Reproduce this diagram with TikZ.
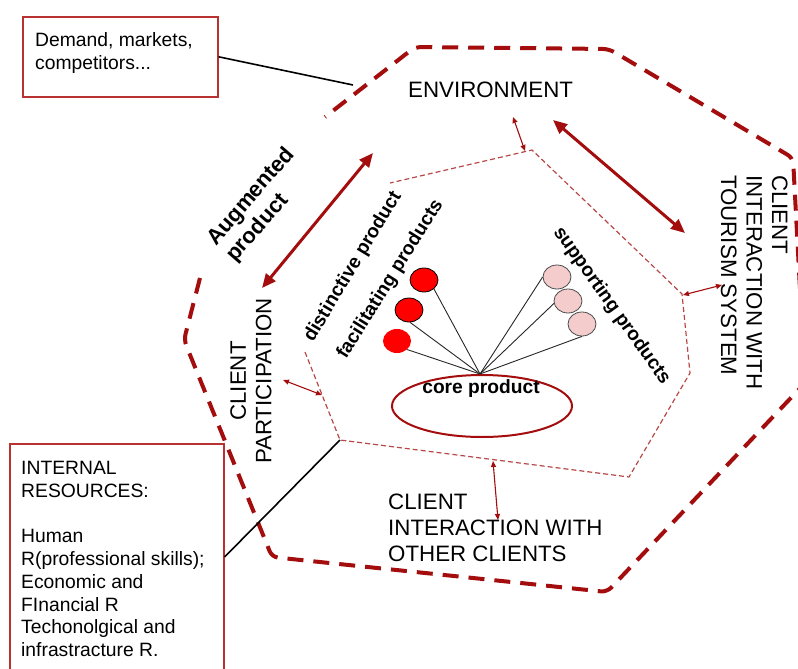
\documentclass[tikz,border=0pt]{standalone}
\usepackage{fontspec}
\setmainfont{Liberation Sans}
\usetikzlibrary{arrows.meta,shapes.geometric}
\definecolor{dred}{HTML}{A30D0D}
\definecolor{lred}{HTML}{B84848}
\definecolor{boxred}{HTML}{B83232}
\definecolor{pinkfill}{HTML}{F4CCCC}
\begin{document}
\begin{tikzpicture}[x=1pt,y=-1pt,
  outer/.style={draw=dred, line width=4pt, dash pattern=on 16pt off 10pt, rounded corners=6pt},
  inner/.style={draw=lred, line width=1.2pt, dash pattern=on 5pt off 3pt},
  bigarrow/.style={draw=dred, line width=3pt, {Triangle[length=14pt,width=12pt]}-{Triangle[length=14pt,width=12pt]}},
  smallarrow/.style={draw=dred, line width=1.1pt, {Triangle[length=6pt,width=5pt]}-{Triangle[length=6pt,width=5pt]}},
  infobox/.style={draw=boxred, line width=1.6pt, inner sep=0pt, anchor=north west},
  boxtext/.style={font=\fontsize{19.3}{22.8}\selectfont, align=left, inner sep=0pt, anchor=base west},
  biglabel/.style={font=\fontsize{22.3}{25.6}\selectfont, inner sep=0pt},
  boldlabel/.style={font=\fontsize{19.2}{22}\selectfont\bfseries, inner sep=0pt},
  augstyle/.style={font=\fontsize{22}{25.3}\selectfont\bfseries, inner sep=0pt},
  leader/.style={draw=black, line width=1.6pt},
  fan/.style={draw=black!85, line width=0.9pt},
  ball/.style={ellipse, inner sep=0pt, minimum width=28pt, minimum height=24pt},
  redball/.style={ball, fill=red, draw=black, line width=0.8pt},
  pinkball/.style={ball, fill=pinkfill, draw=black!70, line width=0.8pt}
]
\useasboundingbox (0,0) rectangle (798,669);
\clip (0,0) rectangle (798,669);

% outer (augmented product) boundary
\coordinate (o1) at (200,278);
\coordinate (o2) at (184,340);
\coordinate (o3) at (272,557);
\coordinate (o4) at (607,592);
\coordinate (o5) at (805,383);
\coordinate (o6) at (793,158);
\coordinate (o7) at (609,49);
\coordinate (o8) at (415,47);
\coordinate (o9) at (325,117);
\draw[outer] (o1) -- (o2) -- (o3) -- (o4) -- (o5) -- (o6) -- (o7) -- (o8) -- (o9);

% inner boundary
\coordinate (i1) at (305,352);
\coordinate (i2) at (340,440);
\coordinate (i3) at (629,477);
\coordinate (i4) at (690,373);
\coordinate (i5) at (682,294);
\coordinate (i6) at (532,150);
\coordinate (i7) at (390,183);
\draw[inner] (i1) -- (i2) -- (i3) -- (i4) -- (i5) -- (i6) -- (i7);

% information boxes (multi-line text is anchored at its last baseline)
\node[infobox, minimum width=195pt, minimum height=80pt] (demand) at (22,16) {};
\node[boxtext] (demandtext) at (35,69.5) {Demand, markets,\\competitors...};
\node[infobox, minimum width=214pt, minimum height=260pt] (internal) at (9,443) {};
\node[boxtext] (internaltext) at (21,656.7) {INTERNAL\\RESOURCES:\\[22.8pt]Human\\R(professional skills);\\Economic and\\FInancial R\\Techonolgical and\\infrastracture R.};

\coordinate (envpt) at (353,85);
\draw[leader] (demand.east) -- (envpt);
\draw[leader] ([yshift=-114pt]internal.north east) -- (i2);

% labels
\node[biglabel, anchor=base west] (env) at (408,97) {ENVIRONMENT};
\node[biglabel, align=left, anchor=base west] (others) at (388,561) {CLIENT\\INTERACTION WITH\\OTHER CLIENTS};
\node[biglabel, align=center, rotate=90] (particip) at (251,381) {CLIENT\\PARTICIPATION};
\node[biglabel, align=left, rotate=-90, anchor=north west] (tourism) at (788,175) {CLIENT\\INTERACTION WITH\\TOURISM SYSTEM};
\node[augstyle, align=left, rotate=49, anchor=base west] (augmented) at (235,263) {Augmented\\product};
\node[boldlabel, rotate=59, anchor=base west] (distinct) at (313,343) {distinctive product};
\node[boldlabel, rotate=58, anchor=base west] (facil) at (346,360) {facilitating products};
\node[boldlabel, rotate=-54.5, anchor=base west] (support) at (553,232) {supporting products};

% large two-way arrows
\coordinate (a1) at (553,120);
\coordinate (a2) at (685,233);
\coordinate (b1) at (373,153);
\coordinate (b2) at (262,288);
\draw[bigarrow] (a1) -- (a2);
\draw[bigarrow] (b1) -- (b2);

% small two-way arrows between layers
\coordinate (se1) at (513,117);
\coordinate (se2) at (525,151);
\coordinate (sp1) at (283,380);
\coordinate (sp2) at (322,395);
\coordinate (st1) at (683,295);
\coordinate (st2) at (722,285);
\coordinate (so1) at (493,461);
\coordinate (so2) at (498,520);
\draw[smallarrow] (se1) -- (se2);
\draw[smallarrow] (sp1) -- (sp2);
\draw[smallarrow] (st1) -- (st2);
\draw[smallarrow] (so1) -- (so2);

% core product and its satellites
\node[ellipse, draw=dred, line width=2pt, minimum width=180pt, minimum height=62pt] (core) at (482,406) {};
\node[boldlabel, anchor=base] (coretext) at (481,393) {core product};
\coordinate (hub) at (480,374);

\node[redball] (r1) at (424,280) {};
\node[redball] (r2) at (409,310) {};
\node[ball, fill=red] (r3) at (397,341) {};
\node[pinkball] (p1) at (557,277) {};
\node[pinkball] (p2) at (568,301) {};
\node[pinkball] (p3) at (582,324) {};

\draw[fan] (hub) -- (r1.-42);
\draw[fan] (hub) -- (r2.-85);
\draw[fan] (hub) -- (r3.-40);
\draw[fan] (hub) -- (p1.west);
\draw[fan] (hub) -- (p2.190);
\draw[fan] (hub) -- (p3.south);
\end{tikzpicture}
\end{document}
